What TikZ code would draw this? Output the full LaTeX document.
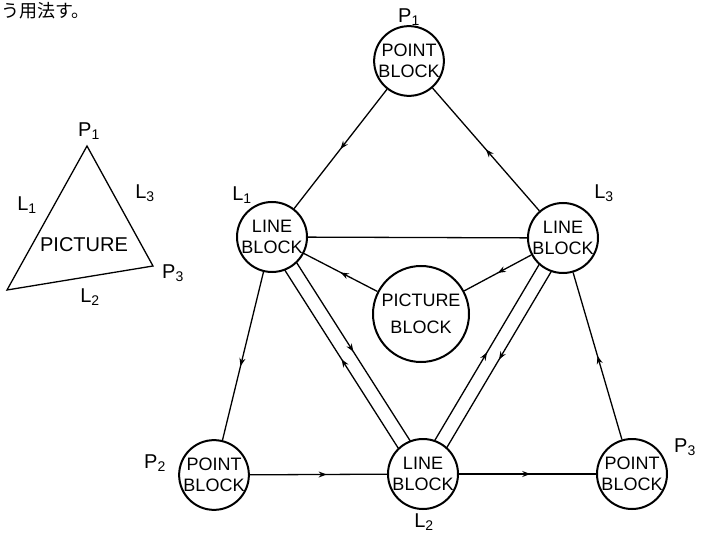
\documentclass[tikz,border=0pt]{standalone}
\usepackage{fontspec}
\setmainfont{Liberation Sans}
\newfontfamily\cjk{Noto Sans CJK JP}
\usetikzlibrary{calc,decorations.markings,arrows.meta,backgrounds}
\begin{document}
\begin{tikzpicture}[x=1pt,y=-1pt,
  blk/.style={circle,draw,line width=2pt,fill=white,minimum size=68pt,inner sep=0pt,align=center,font=\fontsize{18}{21}\selectfont},
  lbl/.style={font=\fontsize{20}{22}\selectfont,inner sep=0pt},
  conn/.style={line width=1.3pt},
  midarrow/.style={postaction={decorate},decoration={markings,mark=at position #1 with {\arrow{Stealth[length=8pt,width=6pt]}}}},
  midarrow/.default=0.5]
\useasboundingbox (0,0) rectangle (701,534);
% Japanese fragment
\node[font=\cjk\fontsize{18}{18}\selectfont,anchor=west,inner sep=0pt] (jp) at (1,11) {う用法す。};
% small triangle
\coordinate (t1) at (87,146);
\coordinate (t2) at (7,290);
\coordinate (t3) at (153,266);
\draw[conn] (t1) -- (t2) -- (t3) -- cycle;
\node[lbl] (tp1) at (89,131) {P\textsubscript{1}};
\node[lbl] (tl1) at (27,205) {L\textsubscript{1}};
\node[lbl] (tl3) at (145,193) {L\textsubscript{3}};
\node[lbl] (tpic) at (84,245) {PICTURE};
\node[lbl] (tp3) at (173,273) {P\textsubscript{3}};
\node[lbl] (tl2) at (90,297) {L\textsubscript{2}};
% blocks
\node[blk] (P1) at (409,61) {POINT\\BLOCK};
\node[blk,minimum size=70pt] (L1) at (272,237) {LINE\\BLOCK};
\node[blk,minimum size=70pt] (L3) at (563,238) {LINE\\BLOCK};
\node[blk,minimum size=96pt] (PB) at (421,314) {PICTURE\\[6pt]BLOCK};
\node[blk,minimum size=66pt] (P2) at (214,475) {POINT\\BLOCK};
\node[blk,minimum size=70pt] (L2) at (423,474) {LINE\\BLOCK};
\node[blk,minimum size=70pt] (P3) at (632,474) {POINT\\BLOCK};
% labels
\node[lbl] (lP1) at (409,17) {P\textsubscript{1}};
\node[lbl] (lL1) at (242,195) {L\textsubscript{1}};
\node[lbl] (lL3) at (604,193) {L\textsubscript{3}};
\node[lbl] (lP2) at (155,463) {P\textsubscript{2}};
\node[lbl] (lL2) at (424,522) {L\textsubscript{2}};
\node[lbl] (lP3) at (685,447) {P\textsubscript{3}};
% connectors
\begin{scope}[on background layer]
\draw[conn,midarrow] (P1) -- (L1);
\draw[conn,midarrow] (L3) -- (P1);
\draw[conn] (L1) -- (L3);
\draw[conn,midarrow] (PB) -- (L1);
\draw[conn,midarrow] (L3) -- (PB);
\draw[conn,midarrow=0.56] (L1) -- (P2);
\draw[conn,midarrow] (P3) -- (L3);
\draw[conn,midarrow=0.56] (P2) -- (L2);
\draw[conn,midarrow=0.52] (L2) -- (P3);
% double lines L1-L2
\draw[conn,midarrow] ($(L1.center)!7pt!90:(L2.center)$) -- ($(L2.center)!7pt!-90:(L1.center)$);
\draw[conn,midarrow] ($(L2.center)!7pt!90:(L1.center)$) -- ($(L1.center)!7pt!-90:(L2.center)$);
% double lines L3-L2
\draw[conn,midarrow] ($(L3.center)!7pt!90:(L2.center)$) -- ($(L2.center)!7pt!-90:(L3.center)$);
\draw[conn,midarrow] ($(L2.center)!7pt!90:(L3.center)$) -- ($(L3.center)!7pt!-90:(L2.center)$);
\end{scope}
\end{tikzpicture}
\end{document}
